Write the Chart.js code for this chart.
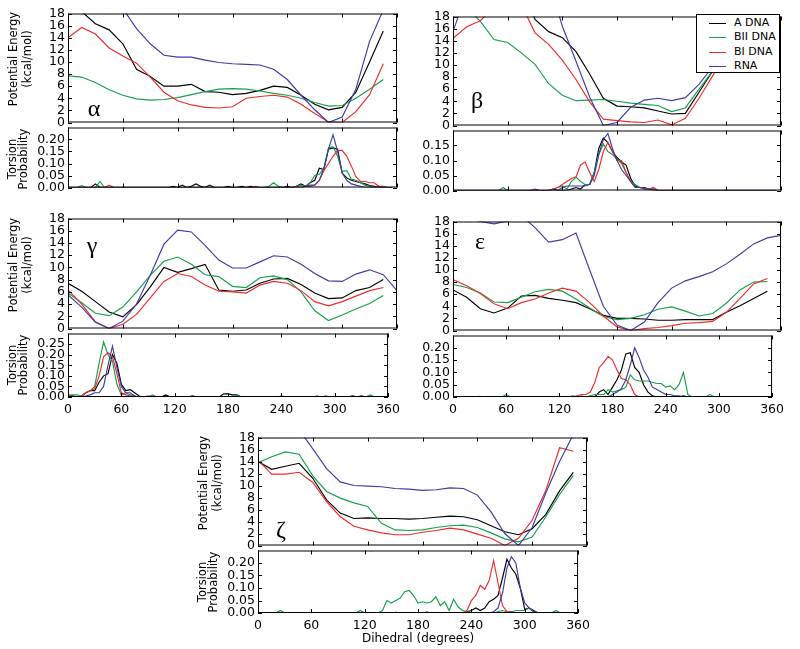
<!DOCTYPE html>
<html>
<head>
<meta charset="utf-8">
<script src="https://cdn.jsdelivr.net/npm/chart.js@4.4.1/dist/chart.umd.min.js"></script>
<style>
  body { margin: 0; background: #fff; }
  #fig { position: relative; width: 800px; height: 649px; overflow: hidden; font-family: "DejaVu Sans", sans-serif; color: #000; }
  #fig canvas { position: absolute; }
  .ytitle { position: absolute; transform: translate(-50%, -50%) rotate(-90deg); white-space: nowrap; text-align: center; font-size: 11.5px; }
  .greek { position: absolute; transform: translate(-50%, -50%); font-family: "Liberation Serif", serif; font-size: 24px; line-height: 1; }
  #legend { position: absolute; left: 696px; top: 14px; width: 84px; height: 59px; border: 1px solid #000; background: #fff; box-sizing: border-box; font-size: 11px; z-index: 5; }
  #legend .row { position: absolute; left: 0; height: 14px; }
  #legend .ln { position: absolute; left: 12px; width: 17px; height: 0; border-top: 1.2px solid; top: 7px; }
  #legend .tx { position: absolute; left: 37px; top: 0; line-height: 14px; white-space: pre; }
</style>
</head>
<body>
<div id="fig"></div>
<script>
// angles (degrees)
const energyAngles = [0, 15, 30, 45, 60, 75, 90, 105, 120, 135, 150, 165, 180, 195, 210, 225, 240, 255, 270, 285, 300, 315, 330, 345, 360];
const probAngles = [
    0, 5, 10, 15, 20, 25, 30, 35, 40, 45, 50, 55,
    60, 65, 70, 75, 80, 85, 90, 95, 100, 105, 110, 115,
    120, 125, 130, 135, 140, 145, 150, 155, 160, 165, 170, 175,
    180, 185, 190, 195, 200, 205, 210, 215, 220, 225, 230, 235,
    240, 245, 250, 255, 260, 265, 270, 275, 280, 285, 290, 295,
    300, 305, 310, 315, 320, 325, 330, 335, 340, 345, 350, 355
];
const xTicks = [0, 60, 120, 180, 240, 300, 360];
const energyTicks = [0, 2, 4, 6, 8, 10, 12, 14, 16, 18];

const seriesNames = ['A DNA', 'BII DNA', 'BI DNA', 'RNA'];
const seriesColors = ['#000000', '#16a04a', '#ee2b2e', '#3c3ca6'];

// potential energy (kcal/mol)
const alphaA   = [18.5, 18.3, 16.3, 15.3, 13.0, 8.8, 7.6, 6.0, 6.0, 6.3, 5.1, 5.0, 4.6, 4.8, 5.3, 6.0, 5.8, 4.5, 3.0, 2.1, 2.5, 5.0, 10.0, 15.1];
const alphaBII = [7.7, 7.5, 6.6, 5.4, 4.5, 3.9, 3.7, 3.8, 4.1, 4.6, 5.1, 5.5, 5.6, 5.5, 5.2, 4.8, 4.5, 4.0, 3.3, 2.7, 2.8, 4.0, 5.5, 7.1];
const alphaBI  = [14.0, 15.7, 14.6, 12.3, 11.0, 9.8, 7.5, 5.0, 3.6, 2.9, 2.5, 2.4, 2.6, 4.0, 4.3, 4.5, 4.2, 3.0, 1.5, 0.1, 0.0, 1.8, 4.6, 9.7];
const alphaRNA = [26, 24, 22.5, 21, 18.8, 15.5, 13.0, 11.1, 10.8, 10.8, 10.3, 9.9, 9.7, 9.6, 9.5, 8.8, 7.1, 4.5, 2.1, 0.0, 0.9, 5.5, 13.4, 18.6];

const betaA   = [26, 26, 26, 26, 26, 24, 17.5, 15.5, 14.5, 12.2, 8.5, 4.5, 3.2, 3.1, 2.9, 2.4, 1.9, 2.0, 5.5, 9.0, 13, 17, 21, 25];
const betaBII = [21, 19.5, 17.2, 14.2, 13.7, 12.0, 10.1, 6.9, 5.0, 4.1, 4.2, 4.3, 4.0, 3.7, 3.5, 3.3, 2.3, 2.9, 6.0, 9.0, 13, 17, 21, 25];
const betaBI  = [14.4, 16.3, 17.3, 19.5, 22, 20, 15.3, 13.4, 10.8, 7.6, 3.9, 1.05, 0.8, 0.6, 0.5, 0.9, 0.1, 1.2, 4.5, 8.2, 12, 16, 20, 24];
const betaRNA = [15.5, 22, 26, 28, 28, 27, 26, 24, 16.4, 10.6, 4.7, 0.0, 0.5, 3.0, 4.2, 4.5, 4.1, 4.6, 6.8, 9.7, 13, 17, 21, 25];

const gammaA   = [7.4, 6.1, 4.4, 2.7, 1.9, 3.9, 6.8, 10.0, 9.2, 9.8, 10.5, 6.3, 6.1, 6.3, 7.4, 8.1, 8.2, 7.2, 5.8, 4.9, 5.0, 6.2, 6.7, 8.0];
const gammaBII = [5.8, 4.2, 2.5, 2.1, 3.5, 6.0, 8.7, 11.0, 11.7, 10.5, 8.8, 8.5, 6.9, 6.7, 8.3, 8.6, 8.0, 6.0, 2.9, 1.3, 2.2, 3.2, 4.1, 5.4];
const gammaBI  = [6.3, 4.0, 1.1, 0.0, 0.7, 2.3, 5.0, 7.7, 9.0, 8.5, 7.1, 6.1, 6.0, 5.8, 7.1, 7.7, 7.4, 6.2, 4.4, 3.7, 4.4, 5.3, 6.2, 6.7];
const gammaRNA = [5.5, 3.5, 1.0, 0.0, 1.2, 4.0, 8.7, 13.8, 16.1, 15.8, 13.6, 11.2, 9.9, 9.9, 10.9, 11.9, 11.7, 10.5, 9.0, 7.8, 7.7, 8.9, 9.6, 8.8, 6.2];

const epsA   = [6.7, 5.5, 3.6, 2.9, 3.7, 5.7, 5.8, 5.3, 5.0, 4.6, 3.6, 2.5, 2.0, 2.0, 1.9, 1.7, 1.7, 1.8, 1.8, 1.8, 3.0, 4.1, 5.3, 6.5];
const epsBII = [7.6, 7.1, 6.2, 4.7, 4.6, 5.5, 6.4, 6.8, 6.5, 5.2, 3.7, 2.3, 1.8, 2.0, 2.6, 3.5, 3.9, 3.2, 2.4, 2.8, 4.5, 6.7, 8.0, 8.1];
const epsBI  = [8.4, 7.4, 6.1, 4.4, 3.6, 4.6, 5.2, 6.2, 7.0, 6.5, 4.6, 2.4, 0.6, 0.0, 0.3, 0.5, 0.8, 1.2, 1.3, 1.5, 3.0, 5.3, 7.7, 8.6];
const epsRNA = [19, 18.6, 18.0, 17.6, 18.1, 19, 17, 14.6, 15.0, 16.1, 10.0, 4.0, 0.9, 0.0, 1.4, 4.6, 7.0, 8.2, 8.9, 9.7, 11.0, 12.6, 14.3, 15.3, 15.7];

const zetaA   = [14.0, 12.7, 13.2, 13.7, 11.2, 7.6, 5.4, 4.5, 4.6, 4.5, 4.5, 4.4, 4.5, 4.7, 4.9, 4.8, 4.3, 3.3, 2.3, 1.8, 2.8, 5.2, 9.1, 12.2];
const zetaBII = [13.8, 14.8, 15.6, 15.2, 11.6, 9.0, 7.9, 7.1, 6.5, 3.7, 2.6, 2.5, 2.6, 3.0, 3.3, 3.4, 3.0, 2.1, 1.1, 0.6, 1.4, 4.8, 8.5, 11.7];
const zetaBI  = [14.2, 11.9, 11.9, 12.2, 10.5, 7.3, 4.8, 3.2, 2.6, 2.1, 1.8, 1.8, 2.2, 2.5, 2.9, 2.6, 1.9, 1.2, 0.0, 1.2, 4.2, 9.2, 16.3, 15.7];
const zetaRNA = [24, 22, 21, 19.3, 16.1, 12.8, 10.6, 10.0, 9.9, 9.8, 9.5, 9.4, 9.2, 9.3, 9.6, 9.5, 8.4, 5.6, 2.0, 0.0, 3.0, 8.8, 14.0, 18.5];

// torsion probability, 5 degree bins
const alphaPA = [
    0, 0, 0, 0, 0, 0, 0.015, 0, 0, 0, 0, 0,
    0, 0, 0, 0, 0, 0, 0, 0, 0, 0, 0, 0.005,
    0, 0.01, 0, 0.005, 0.015, 0.005, 0, 0.01, 0, 0, 0, 0.005,
    0, 0, 0.005, 0, 0.005, 0, 0, 0, 0, 0, 0, 0,
    0.005, 0, 0.005, 0.015, 0.005, 0.02, 0.03, 0.08, 0.075, 0.16, 0.165, 0.16,
    0.06, 0.04, 0.03, 0.025, 0.02, 0.015, 0.008, 0.005, 0, 0, 0, 0
];
const alphaPBII = [
    0, 0, 0, 0.008, 0, 0, 0, 0.025, 0, 0, 0, 0,
    0, 0, 0, 0, 0, 0, 0, 0, 0, 0, 0, 0,
    0, 0, 0, 0, 0, 0, 0, 0, 0, 0, 0, 0,
    0, 0, 0, 0, 0, 0, 0, 0, 0.005, 0.02, 0.005, 0,
    0, 0, 0.005, 0.01, 0.005, 0.02, 0.05, 0.055, 0.08, 0.165, 0.17, 0.13,
    0.065, 0.07, 0.035, 0.03, 0.02, 0.01, 0.005, 0, 0.005, 0, 0, 0
];
const alphaPBI = [
    0, 0, 0, 0, 0, 0, 0, 0, 0, 0.01, 0, 0,
    0, 0, 0, 0, 0, 0, 0, 0, 0, 0, 0, 0,
    0, 0, 0, 0, 0, 0, 0, 0, 0, 0, 0, 0,
    0, 0, 0, 0, 0, 0.005, 0, 0, 0, 0, 0, 0,
    0, 0, 0.005, 0, 0.005, 0.005, 0.01, 0.03, 0.07, 0.1, 0.13, 0.155,
    0.155, 0.13, 0.09, 0.045, 0.025, 0.025, 0.02, 0.02, 0.005, 0.005, 0, 0
];
const alphaPRNA = [
    0, 0, 0, 0, 0, 0, 0, 0, 0, 0, 0, 0,
    0, 0, 0, 0, 0, 0, 0, 0, 0, 0, 0, 0,
    0, 0, 0, 0, 0, 0, 0, 0, 0, 0, 0, 0,
    0, 0, 0, 0, 0, 0, 0, 0, 0, 0, 0, 0,
    0, 0, 0, 0, 0.005, 0.01, 0.01, 0.03, 0.08, 0.16, 0.22, 0.15,
    0.06, 0.03, 0.015, 0.01, 0.005, 0, 0, 0, 0, 0, 0, 0
];

const betaPA = [
    0, 0, 0, 0, 0, 0, 0, 0, 0, 0, 0, 0,
    0, 0, 0, 0, 0, 0, 0, 0, 0, 0, 0.005, 0,
    0, 0, 0.005, 0.01, 0.005, 0.02, 0.02, 0.06, 0.14, 0.175, 0.16, 0.13,
    0.11, 0.095, 0.085, 0.04, 0.015, 0.01, 0.01, 0.005, 0.005, 0, 0, 0,
    0, 0, 0, 0, 0, 0, 0, 0, 0, 0, 0, 0,
    0, 0, 0, 0, 0, 0, 0, 0, 0, 0, 0, 0
];
const betaPBII = [
    0, 0, 0, 0, 0, 0, 0, 0, 0, 0, 0, 0.01,
    0, 0, 0, 0, 0, 0, 0, 0, 0, 0, 0.005, 0.01,
    0.015, 0.005, 0.03, 0.045, 0.03, 0.02, 0.02, 0.06, 0.12, 0.155, 0.13, 0.12,
    0.105, 0.09, 0.06, 0.03, 0.02, 0.01, 0.005, 0.005, 0.005, 0, 0, 0,
    0, 0, 0, 0, 0, 0, 0, 0, 0, 0, 0, 0,
    0, 0, 0, 0, 0, 0, 0, 0, 0, 0, 0, 0
];
const betaPBI = [
    0, 0, 0, 0, 0, 0, 0, 0, 0, 0, 0, 0,
    0, 0, 0, 0, 0, 0, 0, 0, 0, 0, 0.005, 0.01,
    0.02, 0.03, 0.04, 0.045, 0.085, 0.095, 0.06, 0.03, 0.07, 0.13, 0.16, 0.13,
    0.1, 0.1, 0.06, 0.03, 0.01, 0.01, 0.005, 0.005, 0.01, 0, 0, 0,
    0, 0, 0, 0, 0, 0, 0, 0, 0, 0, 0, 0,
    0, 0, 0, 0, 0, 0, 0, 0, 0, 0, 0, 0
];
const betaPRNA = [
    0, 0, 0, 0, 0, 0, 0, 0, 0, 0, 0, 0,
    0, 0, 0, 0, 0, 0, 0.005, 0, 0, 0, 0, 0,
    0.01, 0.015, 0.015, 0.015, 0.015, 0.015, 0.02, 0.05, 0.12, 0.17, 0.19, 0.14,
    0.1, 0.07, 0.05, 0.03, 0.01, 0.01, 0.008, 0.005, 0, 0, 0, 0,
    0, 0, 0, 0, 0, 0, 0, 0, 0, 0, 0, 0,
    0, 0, 0, 0, 0, 0, 0, 0, 0, 0, 0, 0
];

const gammaPA = [
    0.005, 0.005, 0, 0.005, 0.02, 0.03, 0.03, 0.07, 0.1, 0.11, 0.2, 0.16,
    0.06, 0.03, 0.035, 0.02, 0.005, 0, 0, 0, 0, 0, 0.01, 0,
    0, 0, 0, 0, 0.005, 0, 0, 0, 0, 0, 0, 0.015,
    0.015, 0.01, 0.01, 0, 0, 0, 0, 0, 0, 0, 0, 0,
    0, 0, 0, 0, 0, 0, 0, 0, 0, 0, 0, 0,
    0, 0, 0, 0, 0.005, 0, 0.005, 0, 0, 0, 0, 0
];
const gammaPBII = [
    0.01, 0.01, 0.01, 0.005, 0.02, 0.03, 0.05, 0.16, 0.26, 0.2, 0.17, 0.06,
    0.01, 0.02, 0.01, 0.005, 0, 0, 0, 0.01, 0, 0, 0, 0,
    0, 0, 0, 0, 0, 0, 0, 0, 0, 0, 0, 0,
    0, 0, 0.01, 0, 0, 0, 0, 0, 0, 0, 0, 0,
    0, 0, 0, 0, 0, 0, 0, 0, 0.005, 0, 0, 0,
    0, 0, 0, 0, 0, 0, 0, 0, 0.01, 0, 0, 0
];
const gammaPBI = [
    0.005, 0.005, 0, 0, 0.02, 0.03, 0.04, 0.1, 0.19, 0.21, 0.19, 0.11,
    0.02, 0.01, 0.005, 0, 0, 0, 0.005, 0, 0, 0, 0, 0,
    0, 0, 0, 0, 0, 0, 0, 0, 0, 0, 0, 0,
    0, 0, 0, 0, 0, 0, 0, 0, 0, 0, 0, 0,
    0.005, 0, 0, 0, 0, 0, 0, 0, 0, 0, 0.005, 0,
    0, 0, 0, 0, 0, 0, 0, 0, 0, 0, 0, 0
];
const gammaPRNA = [
    0, 0, 0, 0, 0.005, 0.01, 0.02, 0.02, 0.05, 0.15, 0.24, 0.14,
    0.05, 0.02, 0.02, 0.005, 0, 0, 0, 0, 0, 0, 0, 0,
    0, 0, 0, 0, 0, 0, 0, 0, 0, 0, 0, 0,
    0, 0, 0, 0, 0, 0, 0, 0, 0, 0, 0, 0,
    0, 0, 0, 0, 0, 0, 0, 0, 0, 0, 0, 0,
    0, 0, 0, 0, 0, 0, 0, 0, 0, 0, 0, 0
];

const epsPA = [
    0, 0, 0, 0, 0, 0, 0, 0, 0, 0, 0, 0,
    0, 0, 0, 0, 0, 0, 0, 0, 0, 0, 0, 0,
    0, 0, 0, 0, 0, 0, 0, 0, 0, 0.02, 0.03, 0.01,
    0.04, 0.07, 0.11, 0.175, 0.18, 0.12, 0.1, 0.05, 0.02, 0.005, 0, 0,
    0, 0, 0, 0, 0.005, 0, 0, 0, 0, 0, 0, 0,
    0, 0, 0, 0, 0, 0, 0, 0, 0, 0, 0, 0
];
const epsPBII = [
    0, 0, 0, 0, 0, 0, 0, 0, 0, 0, 0, 0,
    0.01, 0, 0, 0, 0, 0, 0, 0, 0, 0, 0, 0,
    0, 0, 0, 0.005, 0, 0.005, 0, 0.005, 0.01, 0.01, 0.01, 0.03,
    0.02, 0.025, 0.03, 0.04, 0.09, 0.07, 0.065, 0.065, 0.065, 0.06, 0.055, 0.055,
    0.04, 0.045, 0.03, 0.05, 0.1, 0.01, 0, 0, 0, 0, 0.01, 0,
    0, 0, 0, 0, 0, 0, 0, 0, 0, 0, 0, 0
];
const epsPBI = [
    0, 0, 0, 0, 0, 0, 0, 0, 0, 0, 0, 0,
    0, 0, 0, 0, 0, 0, 0, 0, 0, 0, 0, 0,
    0, 0, 0, 0, 0.005, 0.01, 0.01, 0.02, 0.06, 0.12, 0.14, 0.165,
    0.15, 0.11, 0.075, 0.07, 0.05, 0.01, 0, 0, 0, 0, 0, 0,
    0, 0, 0, 0, 0, 0, 0, 0, 0, 0, 0, 0,
    0, 0, 0, 0, 0, 0, 0, 0, 0, 0, 0, 0
];
const epsPRNA = [
    0, 0, 0, 0, 0, 0, 0.003, 0, 0, 0, 0, 0,
    0, 0, 0, 0, 0, 0, 0, 0, 0, 0, 0, 0,
    0, 0, 0, 0, 0, 0, 0, 0, 0, 0, 0, 0,
    0.01, 0.02, 0.035, 0.07, 0.13, 0.2, 0.16, 0.11, 0.08, 0.04, 0.03, 0.02,
    0.01, 0.01, 0.005, 0.005, 0, 0, 0, 0, 0, 0, 0, 0,
    0, 0, 0, 0, 0, 0, 0, 0, 0, 0, 0, 0
];

const zetaPA = [
    0, 0, 0, 0, 0, 0, 0, 0, 0, 0, 0, 0,
    0, 0, 0, 0, 0, 0, 0, 0, 0, 0, 0, 0,
    0, 0, 0, 0, 0, 0, 0, 0.003, 0, 0, 0, 0,
    0, 0, 0.004, 0, 0, 0, 0, 0, 0, 0, 0, 0.005,
    0.01, 0.02, 0.01, 0.02, 0.045, 0.055, 0.07, 0.14, 0.215, 0.18, 0.155, 0.1,
    0.015, 0.02, 0.01, 0, 0, 0, 0, 0, 0, 0, 0, 0
];
const zetaPBII = [
    0, 0, 0, 0, 0, 0.01, 0, 0, 0, 0, 0, 0,
    0, 0, 0, 0, 0, 0, 0, 0, 0, 0, 0, 0.01,
    0, 0, 0, 0, 0.01, 0.05, 0.04, 0.05, 0.06, 0.085, 0.09, 0.07,
    0.04, 0.045, 0.04, 0.045, 0.065, 0.03, 0.045, 0.01, 0.055, 0.025, 0.01, 0.005,
    0, 0, 0, 0, 0, 0, 0.005, 0.01, 0.005, 0.005, 0.01, 0.01,
    0.01, 0.02, 0.005, 0, 0, 0, 0, 0.01, 0, 0, 0, 0
];
const zetaPBI = [
    0, 0, 0, 0, 0, 0, 0, 0, 0, 0, 0, 0,
    0, 0, 0, 0, 0, 0, 0, 0, 0, 0, 0, 0,
    0, 0, 0, 0, 0, 0, 0, 0, 0, 0, 0, 0,
    0, 0, 0, 0, 0, 0, 0, 0, 0, 0, 0, 0.01,
    0.05, 0.07, 0.11, 0.095, 0.13, 0.21, 0.12, 0.03, 0.005, 0.005, 0, 0,
    0, 0, 0, 0, 0, 0, 0, 0, 0, 0, 0, 0
];
const zetaPRNA = [
    0, 0, 0, 0, 0, 0, 0, 0, 0, 0, 0, 0,
    0, 0, 0, 0, 0, 0, 0, 0, 0, 0, 0, 0,
    0, 0, 0, 0, 0, 0, 0, 0, 0, 0, 0, 0,
    0, 0, 0, 0, 0, 0, 0, 0, 0, 0, 0, 0,
    0, 0, 0, 0, 0, 0.005, 0.02, 0.08, 0.18, 0.225, 0.2, 0.1,
    0.04, 0.02, 0.005, 0, 0, 0, 0, 0, 0, 0, 0, 0
];

// layout of each panel (page pixels)
const panels = [
    { letter: 'α', l: 68, r: 397, eTop: 11, mid: 125, pBot: 190, pMax: 0.25, xLabels: false, titles: true,
      energy: [alphaA, alphaBII, alphaBI, alphaRNA], prob: [alphaPA, alphaPBII, alphaPBI, alphaPRNA], gx: 94, gy: 108 },
    { letter: 'β', l: 453, r: 781, eTop: 14, mid: 128, pBot: 193, pMax: 0.2, xLabels: false, titles: false,
      energy: [betaA, betaBII, betaBI, betaRNA], prob: [betaPA, betaPBII, betaPBI, betaPRNA], gx: 477, gy: 100 },
    { letter: 'γ', l: 68, r: 397, eTop: 216, mid: 331, pBot: 397, pMax: 0.3, xLabels: true, titles: true,
      energy: [gammaA, gammaBII, gammaBI, gammaRNA], prob: [gammaPA, gammaPBII, gammaPBI, gammaPRNA], gx: 92, gy: 245 },
    { letter: 'ε', l: 453, r: 781, eTop: 219, mid: 333, pBot: 397, pMax: 0.25, xLabels: true, titles: false,
      energy: [epsA, epsBII, epsBI, epsRNA], prob: [epsPA, epsPBII, epsPBI, epsPRNA], gx: 480, gy: 241 },
    { letter: 'ζ', l: 258, r: 587, eTop: 435, mid: 548, pBot: 613, pMax: 0.25, xLabels: true, titles: true, xTitle: true,
      energy: [zetaA, zetaBII, zetaBI, zetaRNA], prob: [zetaPA, zetaPBII, zetaPBI, zetaPRNA], gx: 281, gy: 529 }
];

const AX = 50, PT = 8, PR = 8, PB = 8;
const tickFont = { family: 'DejaVu Sans', size: 12.5 };

// box around the plot + matplotlib style inward ticks
const framePlugin = {
    id: 'frame',
    afterDatasetsDraw(chart, args, opts) {
        const { ctx, chartArea: a, scales } = chart;
        const L = a.left, R = a.right, T = a.top, B = a.bottom;
        ctx.save();
        ctx.strokeStyle = '#000';
        ctx.lineWidth = 1;
        ctx.beginPath();
        ctx.moveTo(L + 0.5, T + 0.5); ctx.lineTo(R - 0.5, T + 0.5);
        ctx.moveTo(R - 0.5, T); ctx.lineTo(R - 0.5, B);
        ctx.moveTo(L + 0.5, T); ctx.lineTo(L + 0.5, B);
        ctx.moveTo(L, B - 0.5); ctx.lineTo(R, B - 0.5);
        const k = 4;
        xTicks.forEach(v => {
            const px = Math.round(scales.x.getPixelForValue(v)) + 0.5;
            ctx.moveTo(px, B); ctx.lineTo(px, B - k);
            ctx.moveTo(px, T); ctx.lineTo(px, T + k);
        });
        opts.yTicks.forEach(v => {
            const py = Math.round(scales.y.getPixelForValue(v)) + 0.5;
            ctx.moveTo(L, py); ctx.lineTo(L + k, py);
            ctx.moveTo(R, py); ctx.lineTo(R - k, py);
        });
        ctx.stroke();
        ctx.restore();
    }
};

const fig = document.getElementById('fig');

function addCanvas(left, top, width, height) {
    const c = document.createElement('canvas');
    c.width = width; c.height = height;
    c.style.left = left + 'px'; c.style.top = top + 'px';
    c.style.width = width + 'px'; c.style.height = height + 'px';
    fig.appendChild(c);
    return c;
}

function makeDatasets(angles, list) {
    return list.map((values, i) => ({
        label: seriesNames[i],
        data: values.map((v, j) => ({ x: angles[j], y: v })),
        borderColor: seriesColors[i],
        borderWidth: 1.15,
        pointRadius: 0,
        tension: 0,
        fill: false,
        order: 3 - i
    }));
}

function makeChart(left, top, right, bottom, datasets, yOpts, xMode) {
    const xh = xMode === 'title' ? 38 : (xMode === 'labels' ? 20 : 0);
    const canvas = addCanvas(left - AX, top - PT, right - left + AX + PR, bottom - top + PT + (xh || PB));
    return new Chart(canvas, {
        type: 'line',
        data: { datasets },
        options: {
            responsive: false,
            animation: false,
            events: [],
            layout: { padding: { left: 0, top: PT, right: PR, bottom: xh ? 0 : PB } },
            plugins: {
                legend: { display: false },
                tooltip: { enabled: false },
                frame: { yTicks: yOpts.ticks }
            },
            scales: {
                x: {
                    type: 'linear', min: 0, max: 360,
                    display: xh > 0,
                    grid: { display: false, drawTicks: false },
                    border: { display: false },
                    ticks: { stepSize: 60, autoSkip: false, maxRotation: 0, padding: 5, color: '#000', font: tickFont },
                    title: { display: xMode === 'title', text: 'Dihedral (degrees)', color: '#000',
                             font: { family: 'DejaVu Sans', size: 12 }, padding: { top: 0, bottom: 5 } },
                    afterFit: s => { s.height = xh; }
                },
                y: {
                    min: yOpts.min, max: yOpts.max,
                    grid: { display: false, drawTicks: false },
                    border: { display: false },
                    ticks: { stepSize: yOpts.step, autoSkip: false, padding: 3, color: '#000', font: tickFont, callback: yOpts.fmt },
                    afterFit: s => { s.width = AX; }
                }
            }
        },
        plugins: [framePlugin]
    });
}

function addText(cls, html, x, y, extra) {
    const d = document.createElement('div');
    d.className = cls;
    d.innerHTML = html;
    d.style.left = x + 'px';
    d.style.top = y + 'px';
    Object.assign(d.style, extra || {});
    fig.appendChild(d);
}

panels.forEach(p => {
    makeChart(p.l, p.eTop, p.r, p.mid, makeDatasets(energyAngles, p.energy),
        { min: 0, max: 18, step: 2, ticks: energyTicks, fmt: v => String(v) }, 'none');

    const probTicks = [];
    for (let v = 0; v < p.pMax - 1e-9; v += 0.05) probTicks.push(v);
    makeChart(p.l, p.mid, p.r, p.pBot, makeDatasets(probAngles, p.prob),
        { min: 0, max: p.pMax, step: 0.05, ticks: probTicks,
          fmt: v => (v > p.pMax - 1e-6 ? '' : v.toFixed(2)) },
        p.xTitle ? 'title' : (p.xLabels ? 'labels' : 'none'));

    if (p.titles) {
        addText('ytitle', 'Potential Energy<br>(kcal/mol)', p.l - 48, (p.eTop + p.mid) / 2 - 9, { lineHeight: '14px' });
        addText('ytitle', 'Torsion<br>Probability', p.l - 50, (p.mid + p.pBot) / 2 + 1, { lineHeight: '11px' });
    }
    addText('greek', p.letter, p.gx, p.gy);
});

// legend in the beta panel
const legend = document.createElement('div');
legend.id = 'legend';
seriesNames.forEach((name, i) => {
    const row = document.createElement('div');
    row.className = 'row';
    row.style.top = (1 + i * 14.3) + 'px';
    const ln = document.createElement('div');
    ln.className = 'ln';
    ln.style.borderTopColor = seriesColors[i];
    const tx = document.createElement('div');
    tx.className = 'tx';
    tx.textContent = name;
    row.appendChild(ln);
    row.appendChild(tx);
    legend.appendChild(row);
});
fig.appendChild(legend);
</script>
</body>
</html>
